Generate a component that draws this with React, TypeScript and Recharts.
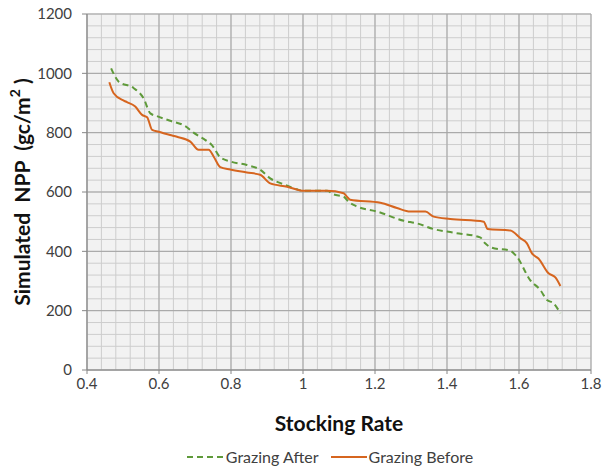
import React from "react";
import { LineChart, Line, XAxis, YAxis, CartesianGrid, Legend, Label } from "recharts";

const afterX = [0.467, 0.488, 0.53, 0.557, 0.576, 0.594, 0.631, 0.673, 0.696, 0.729, 0.747, 0.77, 0.798, 0.844, 0.881, 0.909, 0.946, 0.983, 1.0, 1.067, 1.085, 1.113, 1.127, 1.15, 1.206, 1.28, 1.317, 1.363, 1.418, 1.492, 1.506, 1.525, 1.576, 1.594, 1.631, 1.659, 1.678, 1.696, 1.715];
const afterY = [1017, 972, 950, 916, 865, 856, 840, 822, 800, 775, 758, 717, 703, 691, 675, 646, 626, 609, 604, 604, 592, 584, 567, 551, 534, 503, 494, 475, 463, 447, 427, 412, 402, 382, 303, 270, 236, 225, 191];
const beforeX = [0.462, 0.474, 0.502, 0.511, 0.534, 0.553, 0.567, 0.581, 0.599, 0.631, 0.65, 0.687, 0.71, 0.738, 0.752, 0.77, 0.798, 0.844, 0.881, 0.909, 0.956, 1.002, 1.067, 1.113, 1.122, 1.131, 1.215, 1.261, 1.298, 1.34, 1.363, 1.409, 1.502, 1.513, 1.576, 1.604, 1.622, 1.636, 1.654, 1.682, 1.701, 1.715];
const beforeY = [970, 933, 908, 903, 888, 860, 852, 809, 803, 792, 786, 770, 742, 742, 719, 684, 676, 666, 658, 629, 618, 604, 604, 596, 584, 574, 564, 546, 534, 534, 517, 509, 500, 475, 470, 444, 427, 393, 376, 326, 312, 283];

const xTicks = [0.4, 0.6, 0.8, 1.0, 1.2, 1.4, 1.6, 1.8];
const yTicks = [0, 200, 400, 600, 800, 1000, 1200];
const xMinor = [0.4, 0.44, 0.48, 0.52, 0.56, 0.6, 0.64, 0.68, 0.72, 0.76, 0.8, 0.84, 0.88, 0.92, 0.96, 1.0, 1.04, 1.08, 1.12, 1.16, 1.2, 1.24, 1.28, 1.32, 1.36, 1.4, 1.44, 1.48, 1.52, 1.56, 1.6, 1.64, 1.68, 1.72, 1.76, 1.8];
const yMinor = [0, 40, 80, 120, 160, 200, 240, 280, 320, 360, 400, 440, 480, 520, 560, 600, 640, 680, 720, 760, 800, 840, 880, 920, 960, 1000, 1040, 1080, 1120, 1160, 1200];

const seriesNames = ["Grazing After", "Grazing Before"];
const GREEN = "#5f9a3a";
const ORANGE = "#d6651f";

const afterData = afterX.map((x, i) => ({ x, y: afterY[i] }));
const beforeData = beforeX.map((x, i) => ({ x, y: beforeY[i] }));

const FONT = "Lato, 'Open Sans', sans-serif";

const fmtX = (v: number) => (v === 1 ? "1" : String(Math.round(v * 10) / 10));

const LegendContent = () => (
  <div style={{ display: "flex", justifyContent: "center", alignItems: "center", height: 25, fontFamily: FONT, fontSize: 16, color: "#404040", paddingLeft: 42 }}>
    <svg width={37} height={10} style={{ marginRight: 2 }}>
      <line x1={0} y1={5} x2={37} y2={5} stroke={GREEN} strokeWidth={2} strokeDasharray="6 4" />
    </svg>
    <span style={{ marginRight: 12 }}>{seriesNames[0]}</span>
    <svg width={36} height={10} style={{ marginRight: 2 }}>
      <line x1={0} y1={5} x2={36} y2={5} stroke={ORANGE} strokeWidth={2} />
    </svg>
    <span>{seriesNames[1]}</span>
  </div>
);

export default function App() {
  return (
    <div style={{ width: 604, height: 469, background: "#fff" }}>
      <style>{"body{margin:0}"}</style>
      <LineChart width={604} height={469} margin={{ top: 14, right: 13, left: 27, bottom: 0 }}>
        <XAxis xAxisId="minor" type="number" dataKey="x" domain={[0.4, 1.8]} ticks={xMinor} interval={0} hide allowDataOverflow />
        <YAxis yAxisId="minor" type="number" dataKey="y" domain={[0, 1200]} ticks={yMinor} interval={0} hide allowDataOverflow />
        <CartesianGrid xAxisId="minor" yAxisId="minor" stroke="#cdcdcd" strokeWidth={1} fill="#f2f2f2" fillOpacity={1} />
        <CartesianGrid stroke="#a3a3a3" strokeWidth={1} />
        <XAxis
          type="number"
          dataKey="x"
          domain={[0.4, 1.8]}
          ticks={xTicks}
          interval={0}
          tickFormatter={fmtX}
          height={74}
          tickSize={4}
          tickMargin={4}
          stroke="#868686"
          tick={{ fill: "#404040", fontSize: 15, fontFamily: FONT }}
          allowDataOverflow
        >
          <Label
            content={(props: any) => {
              const vb = props.viewBox || {};
              return (
                <text x={vb.x + vb.width / 2} y={vb.y + 52} textAnchor="middle" dominantBaseline="central" fontFamily={FONT} fontWeight="bold" fontSize={21} fill="#111">
                  Stocking Rate
                </text>
              );
            }}
          />
        </XAxis>
        <YAxis
          type="number"
          dataKey="y"
          domain={[0, 1200]}
          ticks={yTicks}
          interval={0}
          width={60}
          tickSize={5}
          tickMargin={10}
          stroke="#868686"
          tick={{ fill: "#404040", fontSize: 15, fontFamily: FONT }}
          allowDataOverflow
        >
          <Label
            content={(props: any) => {
              const vb = props.viewBox || {};
              const cx = vb.x - 6;
              const cy = vb.y + vb.height / 2;
              return (
                <text x={cx} y={cy} transform={`rotate(-90 ${cx} ${cy})`} textAnchor="middle" dominantBaseline="central" fontFamily={FONT} fontWeight="bold" fontSize={21} fill="#111" style={{ whiteSpace: "pre" }}>
                  {"Simulated  NPP  (gc/m"}
                  <tspan dy={-7} fontSize={14}>2</tspan>
                  <tspan dy={7}>{" )"}</tspan>
                </text>
              );
            }}
          />
        </YAxis>
        <Legend verticalAlign="bottom" height={25} content={() => <LegendContent />} />
        <Line data={afterData} dataKey="y" name={seriesNames[0]} type="monotoneX" stroke={GREEN} strokeWidth={2} strokeDasharray="6 4" dot={false} isAnimationActive={false} />
        <Line data={beforeData} dataKey="y" name={seriesNames[1]} type="monotoneX" stroke={ORANGE} strokeWidth={2} dot={false} isAnimationActive={false} />
      </LineChart>
    </div>
  );
}
